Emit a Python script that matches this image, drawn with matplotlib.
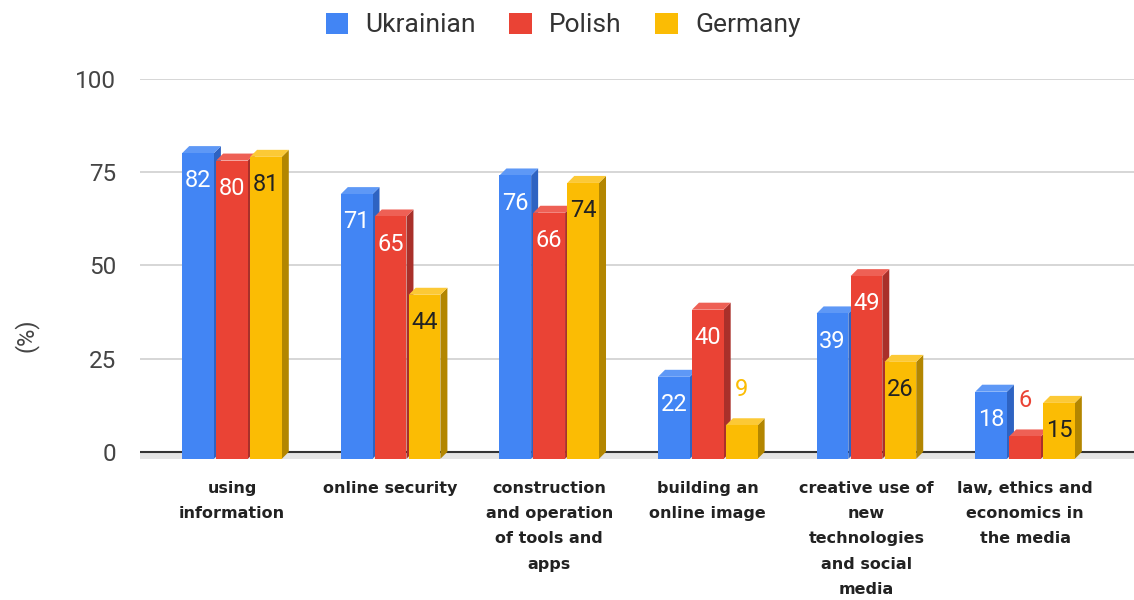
import matplotlib

matplotlib.use("Agg")
import matplotlib.pyplot as plt
import numpy as np
from matplotlib.patches import Patch, Polygon

CATEGORIES = [
    "using\ninformation",
    "online security",
    "construction\nand operation\nof tools and\napps",
    "building an\nonline image",
    "creative use of\nnew\ntechnologies\nand social\nmedia",
    "law, ethics and\neconomics in\nthe media",
]
SERIES = ["Ukrainian", "Polish", "Germany"]
UKRAINIAN = [82, 71, 76, 22, 39, 18]
POLISH = [80, 65, 66, 40, 49, 6]
GERMANY = [81, 44, 74, 9, 26, 15]
Y_TICKS = [0, 25, 50, 75, 100]

# front / side / top shades and label colour for each series
FACE = {"Ukrainian": ("#4285F4", "#2E63C2", "#5E98F6", "white"),
        "Polish": ("#EA4335", "#A9302A", "#EE6055", "white"),
        "Germany": ("#FBBC04", "#B38600", "#FCC936", "#222222")}

W, H, DPI = 1134, 600, 100
DEPTH_PX = 7
BAR_STEP = 0.214
BAR_W = 0.2
XLIM = (-0.580, 5.687)
YLIM = (-3, 100)

plt.rcParams["font.family"] = ["Roboto", "DejaVu Sans"]

fig = plt.figure(figsize=(W / DPI, H / DPI), dpi=DPI)
ax = fig.add_axes([140 / W, 1 - 463 / H, 994 / W, 384 / H])
ax.set_xlim(*XLIM)
ax.set_ylim(*YLIM)

# depth of the 3D extrusion expressed in data units
bb = ax.get_window_extent()
ddx = DEPTH_PX * (XLIM[1] - XLIM[0]) / bb.width
ddy = DEPTH_PX * (YLIM[1] - YLIM[0]) / bb.height

for s in ax.spines.values():
    s.set_visible(False)
ax.set_yticks(Y_TICKS)
ax.set_yticklabels([str(t) for t in Y_TICKS])
ax.tick_params(axis="y", length=0, pad=17, labelsize=17.5, labelcolor="#444444")
ax.set_xticks(np.arange(len(CATEGORIES)))
ax.set_xticklabels(CATEGORIES, fontsize=11.5, fontweight="bold", color="#222222",
                   family="DejaVu Sans", linespacing=1.85, va="top")
ax.tick_params(axis="x", length=0, pad=13)
for t in Y_TICKS[1:]:
    ax.axhline(t, color="#d0d0d0", lw=1.2, zorder=0)

# floor strip and baseline
ax.axhspan(-ddy, 0, color="#e4e4e4", lw=0, zorder=0.5)
ax.axhline(0, color="#333333", lw=1.5, zorder=0.6)

data = {"Ukrainian": UKRAINIAN, "Polish": POLISH, "Germany": GERMANY}
x = np.arange(len(CATEGORIES))
for i in x:
    for k, name in enumerate(SERIES):
        v = data[name][i]
        front, side, top, lab = FACE[name]
        x0 = i + (k - 1) * BAR_STEP - BAR_W / 2
        x1 = x0 + BAR_W
        ax.add_patch(Polygon([(x1, -ddy), (x1, v - ddy), (x1 + ddx, v), (x1 + ddx, 0)],
                             closed=True, fc=side, lw=0, zorder=2))
        ax.add_patch(Polygon([(x0, v - ddy), (x1, v - ddy), (x1 + ddx, v), (x0 + ddx, v)],
                             closed=True, fc=top, lw=0, zorder=2))
        ax.add_patch(Polygon([(x0, -ddy), (x1, -ddy), (x1, v - ddy), (x0, v - ddy)],
                             closed=True, fc=front, lw=0, zorder=2))
        cx = (x0 + x1) / 2
        if v >= 12:
            ax.annotate(str(v), (cx, v - ddy), xytext=(0, -20), textcoords="offset points",
                        ha="center", va="center", fontsize=17, color=lab, zorder=3)
        else:
            ax.annotate(str(v), (cx, v), xytext=(0, 21), textcoords="offset points",
                        ha="center", va="center", fontsize=17, color=front, zorder=3)

fig.text(26 / W, 1 - 335 / H, "(%)", rotation=90, ha="center", va="center",
         fontsize=17, color="#444444")

handles = [Patch(facecolor=FACE[n][0], edgecolor="none") for n in SERIES]
fig.legend(handles, SERIES, loc="center", bbox_to_anchor=(563 / W, 1 - 25 / H),
           ncol=3, frameon=False, fontsize=19, handlelength=0.87, handleheight=0.87,
           handletextpad=0.65, columnspacing=1.25, labelcolor="#333333")

fig.savefig("out.png", dpi=DPI)
